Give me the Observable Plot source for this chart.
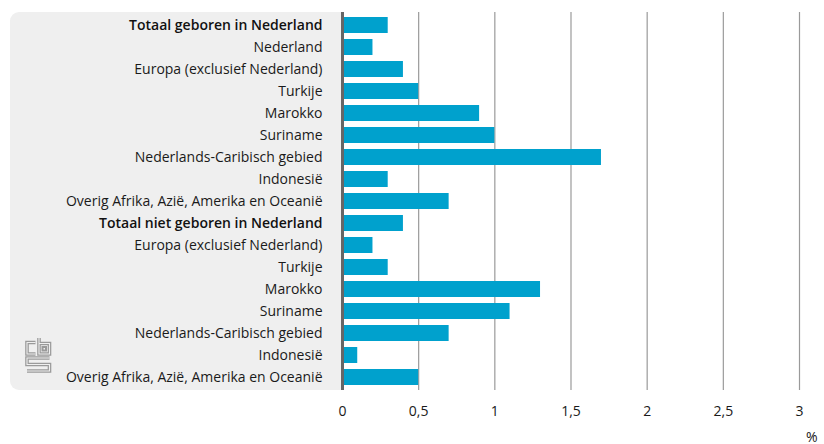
<!DOCTYPE html>
<html><head><meta charset="utf-8">
<script src="https://cdn.jsdelivr.net/npm/d3@7"></script>
<script src="https://cdn.jsdelivr.net/npm/@observablehq/plot@0.6"></script>
<style>
body{margin:0;background:#fff;font-family:"Open Sans","Noto Sans",sans-serif;}
#wrap{position:relative;width:824px;height:444px;}
#panel{position:absolute;left:10px;top:12px;width:332px;height:378px;background:#efefef;border-radius:9px 0 0 9px;}
#logo{position:absolute;left:25px;top:338px;}
#chart{position:absolute;left:0;top:0;}
</style></head><body>
<div id="wrap"><div id="panel"></div>
<svg id="logo" width="27" height="36" viewBox="0 0 27 36" fill="none">
<g stroke="#9a9a9a" stroke-width="3.6" stroke-linejoin="miter">
<path d="M10.5 4.5H2V16H10.5"/>
<path d="M14 0V16H24.5V5.5H14"/>
<path d="M17.5 9H21V12.5H17.5Z" stroke-width="2"/>
<path d="M24.5 20H2V26.5H24.5V33H2"/>
</g>
<g stroke="#efefef" stroke-width="1.1">
<path d="M10.5 4.5H2V16H10.5"/>
<path d="M14 0V16H24.5V5.5H14"/>
<path d="M24.5 20H2V26.5H24.5V33H2"/>
</g>
</svg>
<div id="chart"></div></div>
<script>
const labels = ["Totaal geboren in Nederland","Nederland","Europa (exclusief Nederland)","Turkije","Marokko","Suriname","Nederlands-Caribisch gebied","Indonesië","Overig Afrika, Azië, Amerika en Oceanië","Totaal niet geboren in Nederland","Europa (exclusief Nederland)","Turkije","Marokko","Suriname","Nederlands-Caribisch gebied","Indonesië","Overig Afrika, Azië, Amerika en Oceanië"];
const values = [0.3,0.2,0.4,0.5,0.9,1.0,1.7,0.3,0.7,0.4,0.2,0.3,1.3,1.1,0.7,0.1,0.5];
const boldRows = [0,9];
const xTicks = [0,0.5,1,1.5,2,2.5,3];

const data = labels.map((l,i)=>({key:String(i),label:l,value:values[i],bold:boldRows.includes(i)}));
const fmt = d => String(d).replace(".",",");

const chart = Plot.plot({
  width:824, height:444,
  marginTop:12, marginBottom:54, marginLeft:342, marginRight:25,
  style:{background:"transparent",fontFamily:"'Open Sans', 'Noto Sans', sans-serif",fontSize:"14px",color:"#1a1a1a"},
  x:{domain:[0,3],label:null},
  y:{domain:data.map(d=>d.key),paddingInner:0.27,paddingOuter:0.06,align:0.5,axis:null},
  marks:[
    Plot.ruleX(xTicks.filter(t=>t>0),{stroke:"#9a9a9a",strokeWidth:1.2}),
    Plot.barX(data,{x:"value",y:"key",fill:"#00a1cd"}),
    Plot.ruleX([0],{stroke:"#666",strokeWidth:3}),
    Plot.text(data.filter(d=>!d.bold),{x:0,y:"key",text:"label",textAnchor:"end",dx:-20,fill:"#1a1a1a",fontSize:14}),
    Plot.text(data.filter(d=>d.bold),{x:0,y:"key",text:"label",textAnchor:"end",dx:-20,fill:"#111",fontSize:14,fontWeight:"600"}),
    Plot.axisX({ticks:xTicks,tickFormat:fmt,tickSize:0,tickPadding:16,fontSize:14,label:null}),
    Plot.text(["%"],{frameAnchor:"bottom-right",dx:18,dy:51,fontSize:14,fill:"#1a1a1a"})
  ]
});
document.getElementById("chart").appendChild(chart);
</script></body></html>
